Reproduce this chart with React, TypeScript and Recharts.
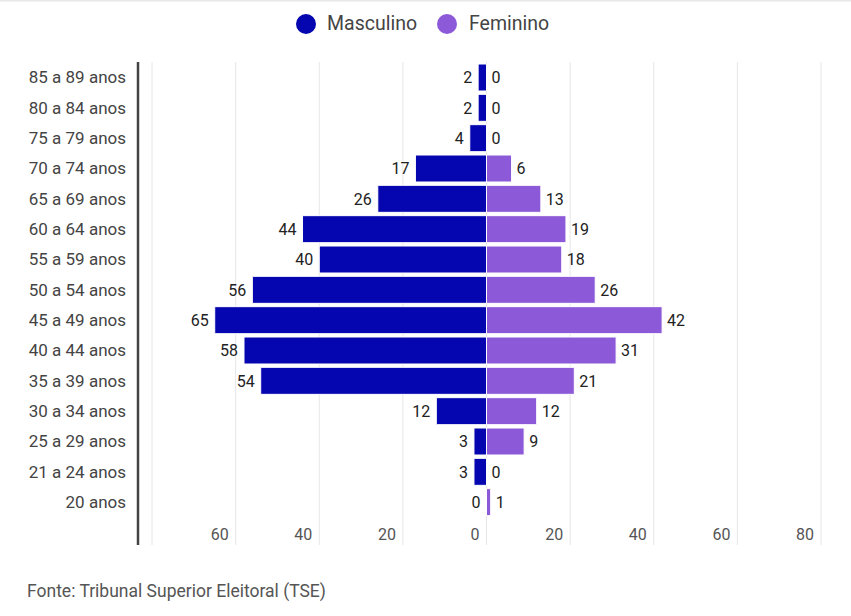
import React from "react";
import { ComposedChart, Bar, XAxis, YAxis, CartesianGrid, LabelList } from "recharts";

const categories = [
  "85 a 89 anos", "80 a 84 anos", "75 a 79 anos", "70 a 74 anos", "65 a 69 anos",
  "60 a 64 anos", "55 a 59 anos", "50 a 54 anos", "45 a 49 anos", "40 a 44 anos",
  "35 a 39 anos", "30 a 34 anos", "25 a 29 anos", "21 a 24 anos", "20 anos",
];
const masculino = [2, 2, 4, 17, 26, 44, 40, 56, 65, 58, 54, 12, 3, 3, 0];
const feminino = [0, 0, 0, 6, 13, 19, 18, 26, 42, 31, 21, 12, 9, 0, 1];
const xTicks = [-80, -60, -40, -20, 0, 20, 40, 60, 80];

const MALE = "#0606b0";
const FEMALE = "#8c5ad8";
const FONT = "Roboto, 'Noto Sans', sans-serif";

const data = categories.map((c, i) => ({
  name: c,
  male: -masculino[i],
  female: feminino[i],
}));

const MaleLabel = (props: any) => {
  const { x, y, width, height, value } = props;
  const left = Math.min(x, x + width);
  return (
    <text x={left - 6} y={y + height / 2} dy="0.36em" textAnchor="end" fontSize={16} fill="#222" fontFamily={FONT}>
      {Math.abs(value)}
    </text>
  );
};

const FemaleLabel = (props: any) => {
  const { x, y, width, height, value } = props;
  const right = Math.max(x, x + width);
  return (
    <text x={right + 5} y={y + height / 2} dy="0.36em" textAnchor="start" fontSize={16} fill="#222" fontFamily={FONT}>
      {Math.abs(value)}
    </text>
  );
};

const XTick = (props: any) => {
  const { x, y, payload } = props;
  if (payload.value === -80) return null;
  return (
    <text x={x - 7} y={y - 5} textAnchor="end" fontSize={16} fill="#555" fontFamily={FONT}>
      {Math.abs(payload.value)}
    </text>
  );
};

export default function App() {
  return (
    <div style={{ position: "absolute", left: 0, top: 0, width: 851, height: 616, background: "#fff", fontFamily: FONT }}>
      <div style={{ position: "absolute", left: 0, top: 0, width: 851, height: 2, background: "linear-gradient(#e4e4e4, #f6f6f6)" }} />
      <div style={{ position: "absolute", top: 12, left: 0, width: 851, height: 24 }}>
        <div style={{ position: "absolute", left: 296, top: 2, width: 20, height: 20, borderRadius: 10, background: MALE }} />
        <div style={{ position: "absolute", left: 327, top: 0, fontSize: 19.5, lineHeight: "24px", color: "#444" }}>Masculino</div>
        <div style={{ position: "absolute", left: 437, top: 2, width: 20, height: 20, borderRadius: 10, background: FEMALE }} />
        <div style={{ position: "absolute", left: 469, top: 0, fontSize: 19.5, lineHeight: "24px", color: "#444" }}>Feminino</div>
      </div>
      <ComposedChart
        width={851}
        height={616}
        data={data}
        layout="vertical"
        stackOffset="sign"
        margin={{ top: 62, right: 30, bottom: 0, left: 0 }}
        barSize={27}
      >
        <CartesianGrid horizontal={false} stroke="#e6e6e6" />
        <XAxis
          type="number"
          domain={[-80, 80]}
          ticks={xTicks}
          padding={{ left: 14, right: 0 }}
          axisLine={false}
          tickLine={false}
          tickSize={0}
          tickMargin={0}
          height={71}
          tick={<XTick />}
          interval={0}
        />
        <YAxis
          type="category"
          dataKey="name"
          width={138}
          padding={{ top: 0, bottom: 28 }}
          axisLine={{ stroke: "#444", strokeWidth: 2.5 }}
          tickLine={false}
          tickSize={0}
          tickMargin={12}
          interval={0}
          tick={{ fontSize: 17, fill: "#444", fontFamily: FONT }}
        />
        <Bar dataKey="male" stackId="a" fill={MALE} stroke="#fff" strokeWidth={1} minPointSize={0.001} isAnimationActive={false}>
          <LabelList dataKey="male" content={<MaleLabel />} />
        </Bar>
        <Bar dataKey="female" stackId="a" fill={FEMALE} stroke="#fff" strokeWidth={1} minPointSize={0.001} isAnimationActive={false}>
          <LabelList dataKey="female" content={<FemaleLabel />} />
        </Bar>
      </ComposedChart>
      <div style={{ position: "absolute", left: 27, top: 580, fontSize: 17.5, lineHeight: "22px", color: "#555" }}>
        Fonte: Tribunal Superior Eleitoral (TSE)
      </div>
    </div>
  );
}
